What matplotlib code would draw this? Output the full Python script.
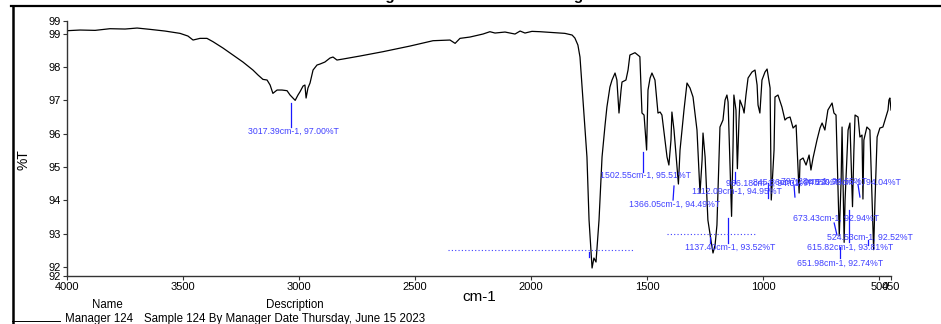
import matplotlib.pyplot as plt
from matplotlib.lines import Line2D

plt.rcParams['font.family'] = ['Liberation Sans', 'DejaVu Sans']

# spectrum (cm-1, %T)
wavenumber = [4000, 3944, 3879, 3815, 3750, 3698, 3642, 3578, 3513, 3479, 3457, 3427, 3397, 3371,
              3328, 3285, 3242, 3199, 3177, 3156, 3138, 3125, 3113, 3095, 3074, 3052, 3039, 3017,
              3005, 2996, 2983, 2975, 2970, 2962, 2953, 2940, 2923, 2910, 2889, 2867, 2854, 2837,
              2811, 2738, 2639, 2522, 2423, 2350, 2328, 2307, 2264, 2208, 2178, 2156, 2113, 2070,
              2048, 2027, 1997, 1962, 1919, 1855, 1824, 1812, 1799, 1790, 1777, 1760, 1751, 1738,
              1730, 1721, 1708, 1695, 1682, 1674, 1661, 1652, 1639, 1631, 1622, 1613, 1609, 1592,
              1583, 1575, 1553, 1532, 1523, 1514, 1503, 1497, 1488, 1480, 1467, 1454, 1445, 1437,
              1424, 1415, 1407, 1398, 1394, 1385, 1366, 1359, 1342, 1329, 1316, 1303, 1286, 1273,
              1264, 1260, 1251, 1239, 1226, 1217, 1208, 1200, 1187, 1174, 1165, 1157, 1152, 1137,
              1131, 1127, 1118, 1112, 1105, 1101, 1088, 1083, 1075, 1066, 1049, 1036, 1027, 1023,
              1015, 1006, 993, 984, 971, 966, 954, 950, 937, 920, 907, 898, 885, 872, 859, 846,
              842, 829, 816, 803, 795, 786, 769, 756, 747, 735, 722, 704, 696, 687, 673, 665,
              661, 652, 648, 635, 627, 616, 610, 605, 592, 584, 575, 571, 567, 554, 541, 525,
              519, 510, 498, 485, 476, 463, 459, 455, 450]
transmittance = [99.09, 99.11, 99.10, 99.15, 99.14, 99.17, 99.13, 99.08, 99.01, 98.93, 98.81, 98.86,
                 98.86, 98.76, 98.57, 98.36, 98.15, 97.91, 97.76, 97.63, 97.61, 97.46, 97.21, 97.31,
                 97.31, 97.29, 97.16, 97.00, 97.16, 97.26, 97.43, 97.46, 97.07, 97.37, 97.52, 97.91,
                 98.06, 98.09, 98.15, 98.27, 98.30, 98.21, 98.24, 98.33, 98.46, 98.63, 98.79, 98.81,
                 98.71, 98.86, 98.90, 98.99, 99.06, 99.02, 99.05, 98.99, 99.08, 99.02, 99.07, 99.06,
                 99.04, 99.01, 98.96, 98.87, 98.66, 98.30, 97.01, 95.30, 93.41, 91.97, 92.27, 92.15,
                 93.41, 95.30, 96.26, 96.80, 97.40, 97.61, 97.82, 97.61, 96.62, 97.31, 97.55, 97.61,
                 97.91, 98.36, 98.43, 98.31, 96.62, 96.56, 95.51, 97.31, 97.67, 97.82, 97.61, 96.62,
                 96.65, 96.56, 95.81, 95.30, 95.06, 95.81, 96.65, 96.11, 94.49, 95.51, 96.71, 97.52,
                 97.37, 97.10, 96.11, 94.22, 95.21, 96.02, 95.30, 93.41, 92.81, 92.42, 92.66, 93.26,
                 96.20, 96.41, 97.01, 97.16, 96.95, 93.52, 95.51, 97.16, 96.71, 94.95, 96.41, 97.01,
                 96.77, 96.62, 97.16, 97.67, 97.85, 97.91, 97.46, 96.86, 96.62, 97.61, 97.85, 97.94,
                 97.37, 94.01, 95.51, 97.10, 97.16, 96.80, 96.41, 96.47, 96.50, 96.17, 96.26, 94.22,
                 95.21, 95.27, 95.06, 95.36, 94.91, 95.27, 95.81, 96.17, 96.32, 96.11, 96.71, 96.92,
                 96.62, 96.56, 92.94, 94.61, 96.20, 92.74, 94.01, 96.11, 96.32, 93.81, 95.51, 96.56,
                 96.50, 95.90, 95.96, 94.04, 95.81, 96.20, 96.11, 92.52, 94.01, 95.90, 96.17, 96.20,
                 96.41, 96.71, 97.01, 97.07, 96.71]

x_ticks = [4000, 3500, 3000, 2500, 2000, 1500, 1000, 500, 450]
y_ticks = [91.73, 92, 93, 94, 95, 96, 97, 98, 99, 99.39]

# peak labels and where the software put them
peak_text = ['3017.39cm-1, 97.00%T', '1502.55cm-1, 95.51%T', '1366.05cm-1, 94.49%T',
             '1112.09cm-1, 94.95%T', '966.18cm-1, 94.01%T', '845.86cm-1, 94.22%T',
             '797.28cm-1, 94.65%T', '570.73cm-1, 94.04%T', '673.43cm-1, 92.94%T',
             '524.53cm-1, 92.52%T', '615.82cm-1, 93.81%T', '651.98cm-1, 92.74%T',
             '1137.40cm-1, 93.52%T']
text_wn = [3026, 1508, 1381, 1114, 975, 859, 737, 592, 689, 539, 625, 668, 1142]
text_t = [96.08, 94.76, 93.89, 94.28, 94.52, 94.55, 94.57, 94.55, 93.47, 92.90, 92.60, 92.12, 92.60]
ptr_wn0 = [3035, 1519, 1385, 1122, 980, 868, 592, 695, 549, 631, 670, 1152, 1230]
ptr_wn1 = [3035, 1519, 1389, 1122, 980, 864, 584, 683, 549, 631, 670, 1152, 1230]
ptr_t0 = [96.92, 95.45, 94.43, 94.85, 94.52, 94.46, 94.46, 93.32, 92.81, 93.71, 92.60, 93.47, 92.90]
ptr_t1 = [96.20, 94.85, 94.01, 94.52, 94.07, 94.10, 94.10, 92.96, 92.66, 92.75, 92.27, 92.72, 92.72]

fig = plt.figure(figsize=(9.41, 3.24), dpi=100)
ax = fig.add_axes([0.0712, 0.1481, 0.8757, 0.788])

ax.plot(wavenumber, transmittance, color='black', lw=0.9)

for s, x, y in zip(peak_text, text_wn, text_t):
    ax.text(x, y, s, color='#4040ff', fontsize=6.3, ha='center', va='center')
for xa, xb, ya, yb in zip(ptr_wn0, ptr_wn1, ptr_t0, ptr_t1):
    ax.plot([xa, xb], [ya, yb], color='#1a1aff', lw=0.9)

# squeezed labels near the baseline, they print as dotted rows
ax.plot([2359, 1562], [92.51, 92.51], color='#4040ff', lw=0.8, ls=(0, (1, 2)))
ax.plot([1415, 1036], [92.99, 92.99], color='#4040ff', lw=0.8, ls=(0, (1, 2)))
ax.plot([1751, 1751], [92.45, 92.30], color='#1a1aff', lw=0.9)

ax.set_xlim(4000, 450)
ax.set_ylim(91.73, 99.39)
ax.set_xticks(x_ticks)
ax.set_xticklabels([str(t) for t in x_ticks])
ax.set_yticks(y_ticks)
ax.set_yticklabels(['%.0f' % t for t in y_ticks])
ax.tick_params(labelsize=8, length=3, width=0.8, color='#333333', pad=1.5)
for side in ['top', 'right']:
    ax.spines[side].set_visible(False)
for side in ['left', 'bottom']:
    ax.spines[side].set_color('#333333')
    ax.spines[side].set_linewidth(1)

# report frame and footer
fig.add_artist(Line2D([0.0117, 1.0], [0.9815, 0.9815], color='black', lw=1.6))
fig.add_artist(Line2D([0.0133, 0.0133], [0.9815, 0.0], color='black', lw=1.8))
fig.add_artist(Line2D([0.0128, 0.0638], [0.0093, 0.0093], color='black', lw=0.7))

fig.text(0.508, 0.9985, 'Image of Scan 124 from Manager', fontsize=11, fontweight='bold',
         ha='center', va='baseline')
fig.text(0.0245, 0.506, '%T', fontsize=10, rotation=90, ha='center', va='center')
fig.text(0.509, 0.0833, 'cm-1', fontsize=11, ha='center', va='center')
fig.text(0.1137, 0.0586, 'Name', fontsize=8.3, ha='center', va='center')
fig.text(0.3135, 0.0586, 'Description', fontsize=8.3, ha='center', va='center')
fig.text(0.069, 0.0154, 'Manager 124', fontsize=8.3, ha='left', va='center')
fig.text(0.153, 0.0154, 'Sample 124 By Manager Date Thursday, June 15 2023', fontsize=8.3,
         ha='left', va='center')

plt.savefig('out.png', dpi=100)
